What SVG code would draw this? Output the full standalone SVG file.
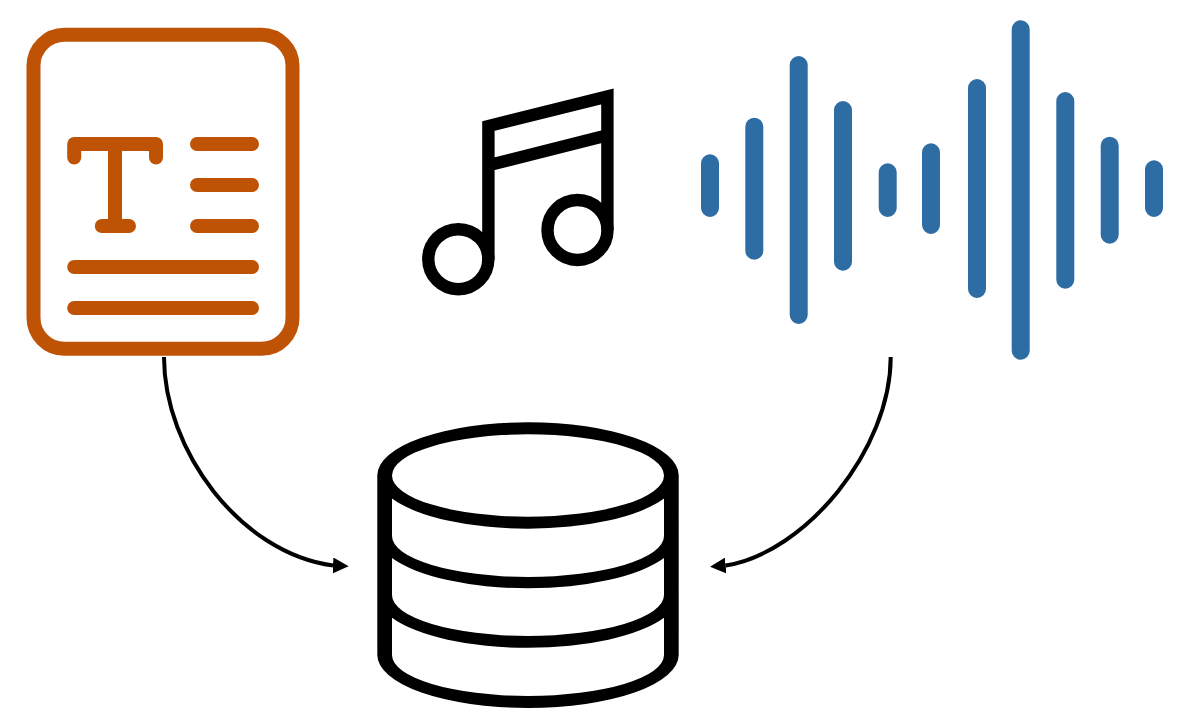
<svg xmlns="http://www.w3.org/2000/svg" width="1192" height="726" viewBox="0 0 1192 726">
<style>
.o{fill:none;stroke:#be5306;stroke-width:14;stroke-linecap:round;stroke-linejoin:round}
.b{fill:none;stroke:#2e6ca4;stroke-width:18;stroke-linecap:round}
.k{fill:none;stroke:#000;stroke-width:12.400;stroke-linejoin:miter}
.d{fill:#000;fill-rule:evenodd;stroke:none}
.c{fill:none;stroke:#000;stroke-width:4}
</style>
<defs>
<marker id="al" markerUnits="userSpaceOnUse" markerWidth="16" markerHeight="16" refX="0" refY="8" orient="3"><path d="M0 0L15.700 8L0 16Z" fill="#000"/></marker>
<marker id="ar" markerUnits="userSpaceOnUse" markerWidth="16" markerHeight="16" refX="0" refY="8" orient="175.500"><path d="M0 0L15.700 8L0 16Z" fill="#000"/></marker>
</defs>
<rect width="1192" height="726" fill="#fff"/>
<g id="text-doc" class="o">
<rect x="33.500" y="34.800" width="259" height="314" rx="31"/>
<path d="M74.200 157.500V144H156V157.500M115 144V226M101.800 226H129M197 144H252M197 185H252M197 226H252M74.200 267H252M74.200 308H252"/>
</g>
<g id="music-note" class="k">
<circle cx="458.300" cy="259.200" r="30"/>
<circle cx="577.500" cy="230" r="30"/>
<path d="M488.400 260V126.100L607.400 96.500V230M488.400 165.300L607.400 135.300"/>
</g>
<g id="waveform" class="b">
<path d="M710 163.300V208M754.300 126.700V250.700M798.700 65V315M843 110V261.700M887.700 172.300V208M931 152.300V225M977 88V289M1020.700 29.300V350.700M1065.300 101V279.700M1109.700 145.700V234.700M1154 169.300V208"/>
</g>
<g id="database">
<path class="d" d="M377.300 475.300A150.700 53 0 0 1 678.700 475.300V655A150.700 53 0 0 1 377.300 655Z
M392 475.500A136 41.200 0 0 0 664 475.500A136 41.200 0 0 0 392 475.500Z
M392 498.500A150.700 53 0 0 0 664 498.500V536A136 41 0 0 1 392 536Z
M392 558.100A150.700 53 0 0 0 664 558.100V595A136 41 0 0 1 392 595Z
M392 617.700A150.700 53 0 0 0 664 617.700V655A136 41 0 0 1 392 655Z"/>
</g>
<g id="connectors" class="c">
<path d="M164 357C164 450 240 553 333 565.500" marker-end="url(#al)"/>
<path d="M890.700 357C890.700 450 805 553 725.700 565.500" marker-end="url(#ar)"/>
</g>
</svg>
